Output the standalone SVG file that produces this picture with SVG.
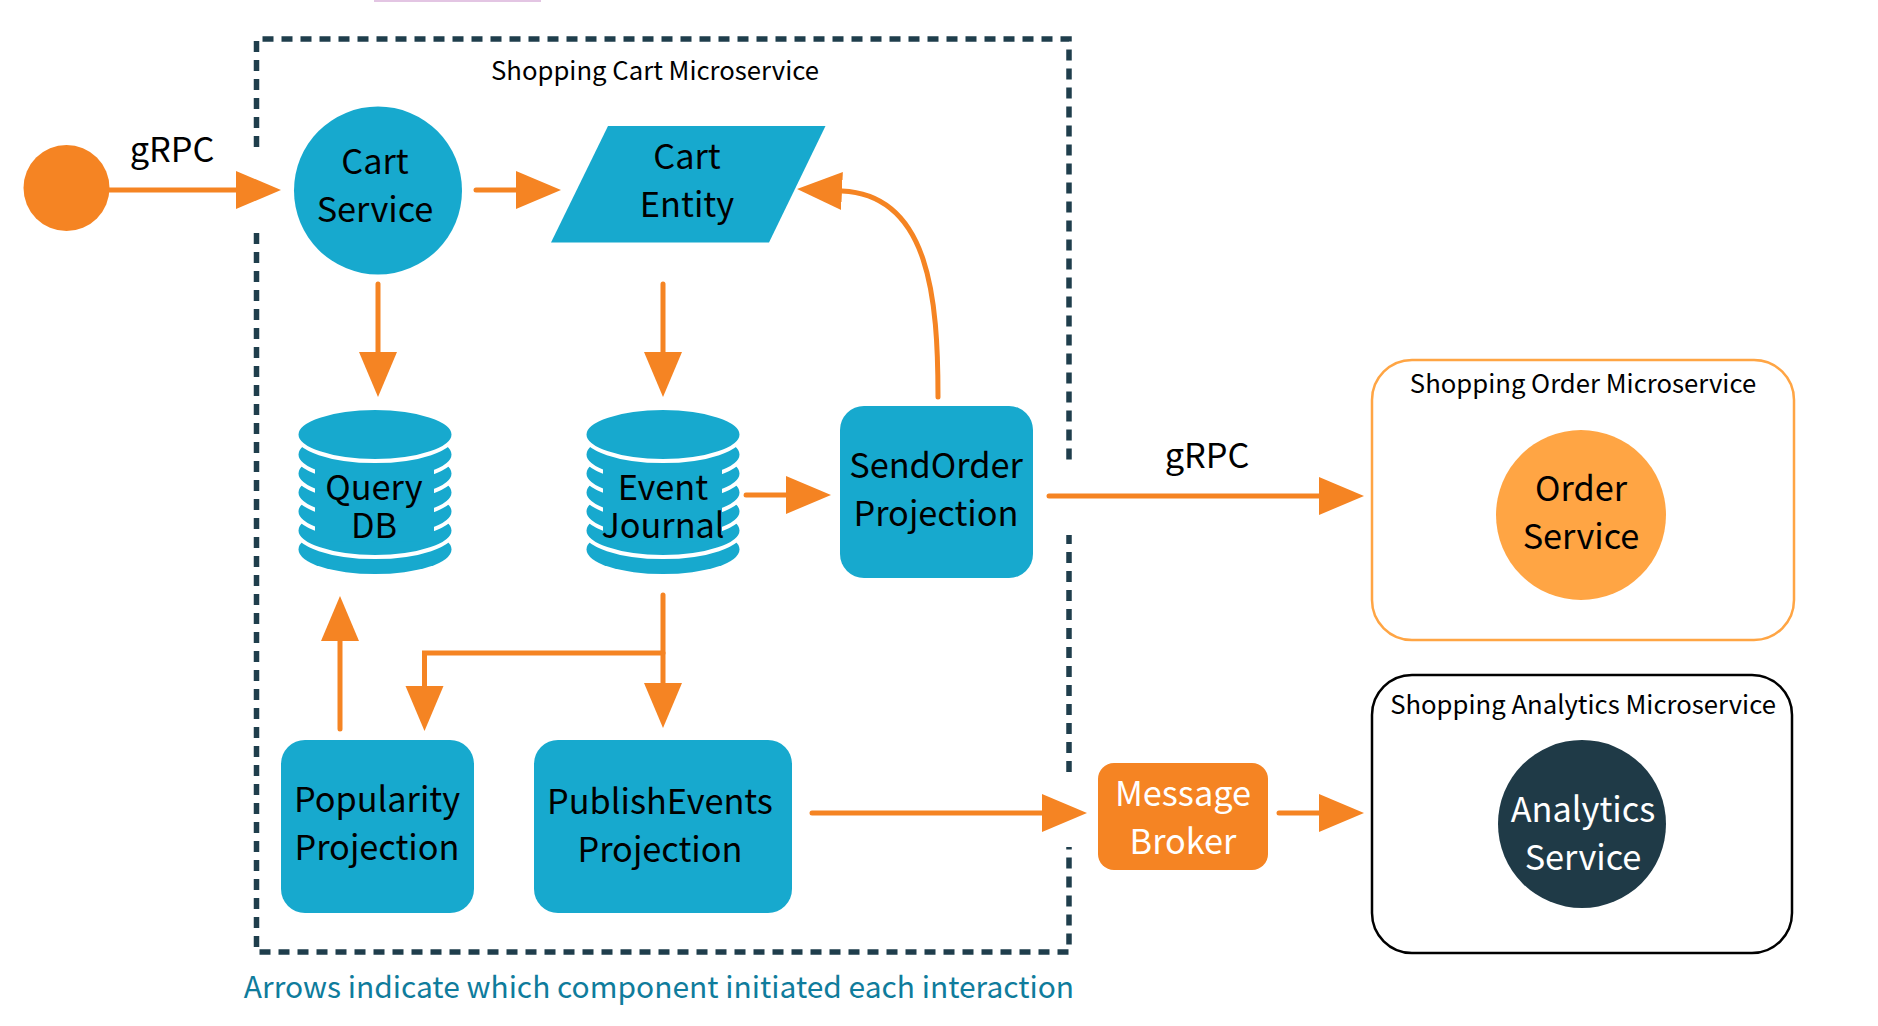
<svg xmlns="http://www.w3.org/2000/svg" xmlns:xlink="http://www.w3.org/1999/xlink" width="1878" height="1026" viewBox="0 0 1878 1026">
<style>
text{font-family:"Noto Sans CJK SC","Source Sans Pro","Noto Sans",sans-serif;text-anchor:middle;fill:#000}
.n{font-size:34.300px}
.s{font-size:25.700px}
.w{fill:#fff}
.b{fill:#17a9ce}
.o{fill:#f58423}
.c{fill:none;stroke:#f58423;stroke-width:5;stroke-linecap:round;marker-end:url(#a)}
.d{fill:none;stroke:#1f3e4c;stroke-width:5.500;stroke-dasharray:11 8}
.l{fill:#17a9ce;stroke:#fff;stroke-width:4}
</style>
<defs>
<marker id="a" markerUnits="userSpaceOnUse" markerWidth="46" markerHeight="40" refX="0" refY="20" orient="auto"><path d="M0 1L45 20L0 39Z" fill="#f58423"/></marker>
<g id="db">
<ellipse cx="0" cy="115" rx="76.500" ry="24.500" class="b"/>
<ellipse cx="0" cy="96" rx="78.500" ry="26.500" class="l"/>
<ellipse cx="0" cy="77" rx="78.500" ry="26.500" class="l"/>
<ellipse cx="0" cy="58" rx="78.500" ry="26.500" class="l"/>
<ellipse cx="0" cy="39" rx="78.500" ry="26.500" class="l"/>
<ellipse cx="0" cy="20" rx="78.500" ry="26.500" class="l"/>
<rect x="-60" y="6" width="119" height="101" class="b"/>
<ellipse cx="0" cy="0" rx="78.500" ry="26.500" class="l"/>
</g>
</defs>
<rect x="374" y="0" width="167" height="2" fill="#e3c5e3"/>
<g id="boundary">
<path class="d" d="M256.500 147V39H1069V461"/>
<path class="d" d="M256.500 233V952H1069V847"/>
<path class="d" d="M1069 772V535"/>
<text x="655" y="80" class="s">Shopping Cart Microservice</text>
<text x="659" y="998" style="font-size:29.950px;fill:#0f7c9c">Arrows indicate which component initiated each interaction</text>
</g>
<g id="connectors">
<path class="c" d="M105 190H236"/>
<path class="c" d="M476 190H516"/>
<path class="c" d="M378 284V352"/>
<path class="c" d="M663 284V352"/>
<path class="c" d="M746 495H786"/>
<path class="c" d="M938 397C938 300 930 195 842 191"/>
<path class="c" d="M1049 496H1319"/>
<path class="c" d="M663 595V683"/>
<path class="c" d="M663 653H424.500V686"/>
<path class="c" d="M340 729V641"/>
<path class="c" d="M812 813H1042"/>
<path class="c" d="M1279 813H1319"/>
<text x="172" y="162" class="n">gRPC</text>
<text x="1207" y="468" class="n">gRPC</text>
</g>
<g id="client"><circle cx="66.500" cy="188" r="43" class="o"/></g>
<g id="cart-service"><circle cx="378" cy="190.500" r="84" class="b"/><text x="375" y="174" class="n">Cart</text><text x="375" y="222" class="n">Service</text></g>
<g id="cart-entity"><path d="M608 126H825.500L769 242.500H551Z" class="b"/><text x="687" y="169" class="n">Cart</text><text x="687" y="217" class="n">Entity</text></g>
<g id="query-db"><use href="#db" x="375" y="434.500"/><text x="374" y="500" class="n">Query</text><text x="374" y="538" class="n">DB</text></g>
<g id="event-journal"><use href="#db" x="663" y="434.500"/><text x="663" y="500" class="n">Event</text><text x="663" y="538" class="n">Journal</text></g>
<g id="sendorder"><rect x="840" y="406" width="193" height="172" rx="24" class="b"/><text x="936" y="478" class="n">SendOrder</text><text x="936" y="526" class="n">Projection</text></g>
<g id="popularity"><rect x="281" y="740" width="193" height="173" rx="24" class="b"/><text x="377" y="812" class="n">Popularity</text><text x="377" y="860" class="n">Projection</text></g>
<g id="publishevents"><rect x="534" y="740" width="258" height="173" rx="24" class="b"/><text x="660" y="814" class="n">PublishEvents</text><text x="660" y="862" class="n">Projection</text></g>
<g id="broker"><rect x="1098" y="763" width="170" height="107" rx="16" class="o"/><text x="1183" y="806" class="n w">Message</text><text x="1183" y="854" class="n w">Broker</text></g>
<g id="order-ms"><rect x="1372" y="360" width="422" height="280" rx="40" fill="none" stroke="#ffa544" stroke-width="2.500"/><text x="1583" y="393" class="s">Shopping Order Microservice</text><circle cx="1581" cy="515" r="85" fill="#ffa544"/><text x="1581" y="501" class="n">Order</text><text x="1581" y="549" class="n">Service</text></g>
<g id="analytics-ms"><rect x="1372" y="675" width="420" height="278" rx="40" fill="none" stroke="#000" stroke-width="2.500"/><text x="1583" y="714" class="s">Shopping Analytics Microservice</text><circle cx="1582" cy="824" r="84" fill="#1f3a47"/><text x="1583" y="822" class="n w">Analytics</text><text x="1583" y="870" class="n w">Service</text></g>
</svg>
